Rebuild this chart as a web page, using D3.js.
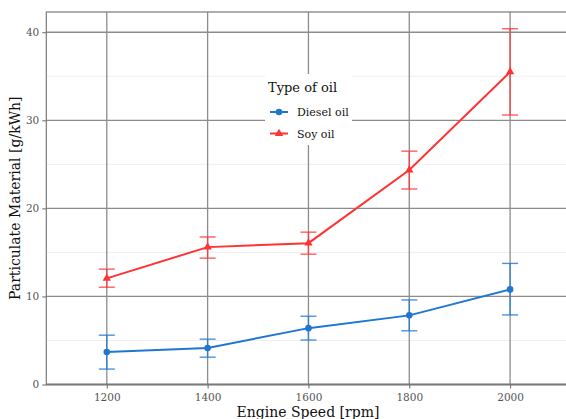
<!DOCTYPE html>
<html>
  <head>
    <meta http-equiv="Content-Type" content="text/html;charset=utf-8"/>
    <script src="https://d3js.org/d3.v7.min.js"></script>
    <style type="text/css">
    body { margin: 0; background: #fff; }
    text { font-family: "DejaVu Serif", serif; }
    .grid-major { stroke: #8c8c8c; stroke-width: 1.3px; }
    .grid-minor { stroke: #efefef; stroke-width: 1px; }
    </style>
  </head>
  <body>
    <script type="text/javascript">
    // values
    var rpm = [1200, 1400, 1600, 1800, 2000];
    var dieselMean = [3.7, 4.15, 6.4, 7.85, 10.8];
    var dieselLow  = [1.75, 3.1, 5.05, 6.1, 7.9];
    var dieselHigh = [5.6, 5.15, 7.75, 9.6, 13.75];
    var soyMean = [12.05, 15.6, 16.05, 24.35, 35.5];
    var soyLow  = [11.05, 14.35, 14.8, 22.2, 30.6];
    var soyHigh = [13.1, 16.75, 17.3, 26.5, 40.4];
    var xTicks = [1200, 1400, 1600, 1800, 2000];
    var yTicks = [0, 10, 20, 30, 40];
    var yMinor = [5, 15, 25, 35];
    var seriesNames = ["Diesel oil", "Soy oil"];
    var seriesColors = ["#1f77d2", "#ff3333"];

    var width = 566, height = 419;
    var svg = d3.select("body").append("svg")
      .attr("width", width).attr("height", height);

    var x = d3.scaleLinear().domain([1080, 2120]).range([46.3, 570.6]);
    var y = d3.scaleLinear().domain([0, 42.3]).range([384.5, 12]);

    var series = [
      {name: seriesNames[0], color: seriesColors[0], shape: d3.symbolCircle,
       pts: rpm.map(function(r, i) { return {x: r, m: dieselMean[i], lo: dieselLow[i], hi: dieselHigh[i]}; })},
      {name: seriesNames[1], color: seriesColors[1], shape: d3.symbolTriangle,
       pts: rpm.map(function(r, i) { return {x: r, m: soyMean[i], lo: soyLow[i], hi: soyHigh[i]}; })}
    ];

    // grid
    var grid = svg.append("g");
    grid.selectAll("line.minor").data(yMinor).enter().append("line")
      .attr("class", "grid-minor")
      .attr("x1", x(1080)).attr("x2", x(2120))
      .attr("y1", function(d) { return y(d); }).attr("y2", function(d) { return y(d); });
    grid.selectAll("line.hy").data(yTicks.slice(1)).enter().append("line")
      .attr("class", "grid-major")
      .attr("x1", x(1080)).attr("x2", x(2120))
      .attr("y1", function(d) { return y(d); }).attr("y2", function(d) { return y(d); });
    grid.selectAll("line.vx").data(xTicks).enter().append("line")
      .attr("class", "grid-major")
      .attr("y1", y(0)).attr("y2", y(42.3))
      .attr("x1", function(d) { return x(d); }).attr("x2", function(d) { return x(d); });

    // panel border
    svg.append("rect")
      .attr("x", x(1080)).attr("y", y(42.3))
      .attr("width", x(2120) - x(1080)).attr("height", y(0) - y(42.3))
      .attr("fill", "none").attr("stroke", "#7a7a7a").attr("stroke-width", 1.2);
    svg.append("line")
      .attr("x1", x(1080)).attr("x2", x(2120))
      .attr("y1", y(0)).attr("y2", y(0))
      .attr("stroke", "#7a7a7a").attr("stroke-width", 2);

    // axes
    var yAxis = d3.axisLeft(y).tickValues(yTicks).tickSize(4).tickPadding(3);
    var gy = svg.append("g").attr("transform", "translate(" + x(1080) + ",0)").call(yAxis);
    gy.select(".domain").remove();
    gy.selectAll(".tick line").attr("stroke", "#6a6a6a");
    gy.selectAll(".tick text").attr("fill", "#555").style("font-size", "10.5px")
      .style("font-family", "DejaVu Serif");

    var xAxis = d3.axisBottom(x).tickValues(xTicks).tickFormat(d3.format("d")).tickSize(4).tickPadding(5);
    var gx = svg.append("g").attr("transform", "translate(0," + y(0) + ")").call(xAxis);
    gx.select(".domain").remove();
    gx.selectAll(".tick line").attr("stroke", "#6a6a6a");
    gx.selectAll(".tick text").attr("fill", "#555").style("font-size", "10.5px")
      .style("font-family", "DejaVu Serif");

    svg.append("text").attr("x", 308).attr("y", 417)
      .attr("text-anchor", "middle").style("font-size", "14px").attr("fill", "#111")
      .text("Engine Speed [rpm]");
    svg.append("text")
      .attr("transform", "translate(20," + ((y(0) + y(42.3)) / 2) + ") rotate(-90)")
      .attr("text-anchor", "middle").style("font-size", "14px").attr("fill", "#111")
      .text("Particulate Material [g/kWh]");

    // legend background (drawn over grid)
    var lg = svg.append("g");
    lg.append("rect").attr("x", 265).attr("y", 74).attr("width", 87).attr("height", 71).attr("fill", "#fff");
    lg.append("text").attr("x", 268).attr("y", 92).style("font-size", "13px").attr("fill", "#111")
      .text("Type of oil");
    series.forEach(function(s, i) {
      var ly = 112 + i * 21.5;
      lg.append("line").attr("x1", 270).attr("x2", 288).attr("y1", ly).attr("y2", ly)
        .attr("stroke", s.color).attr("stroke-width", 2);
      lg.append("path").attr("d", d3.symbol().type(s.shape).size(i === 0 ? 34 : 30)())
        .attr("transform", "translate(279," + ly + ")").attr("fill", s.color);
      lg.append("text").attr("x", 297).attr("y", ly + 4).style("font-size", "11px").attr("fill", "#111")
        .text(s.name);
    });

    // data
    var line = d3.line().x(function(d) { return x(d.x); }).y(function(d) { return y(d.m); });
    series.forEach(function(s, i) {
      var g = svg.append("g");
      var eb = g.selectAll("g.eb").data(s.pts).enter().append("g")
        .attr("stroke", s.color).attr("stroke-opacity", 0.8).attr("stroke-width", 1.4);
      eb.append("line")
        .attr("x1", function(d) { return x(d.x); }).attr("x2", function(d) { return x(d.x); })
        .attr("y1", function(d) { return y(d.lo); }).attr("y2", function(d) { return y(d.hi); });
      eb.append("line")
        .attr("x1", function(d) { return x(d.x) - 8; }).attr("x2", function(d) { return x(d.x) + 8; })
        .attr("y1", function(d) { return y(d.lo); }).attr("y2", function(d) { return y(d.lo); });
      eb.append("line")
        .attr("x1", function(d) { return x(d.x) - 8; }).attr("x2", function(d) { return x(d.x) + 8; })
        .attr("y1", function(d) { return y(d.hi); }).attr("y2", function(d) { return y(d.hi); });
      g.append("path").datum(s.pts).attr("d", line)
        .attr("fill", "none").attr("stroke", s.color).attr("stroke-width", 2);
      g.selectAll("path.pt").data(s.pts).enter().append("path")
        .attr("class", "pt")
        .attr("d", d3.symbol().type(s.shape).size(i === 0 ? 34 : 30))
        .attr("transform", function(d) { return "translate(" + x(d.x) + "," + y(d.m) + ")"; })
        .attr("fill", s.color);
    });
    </script>
  </body>
</html>
